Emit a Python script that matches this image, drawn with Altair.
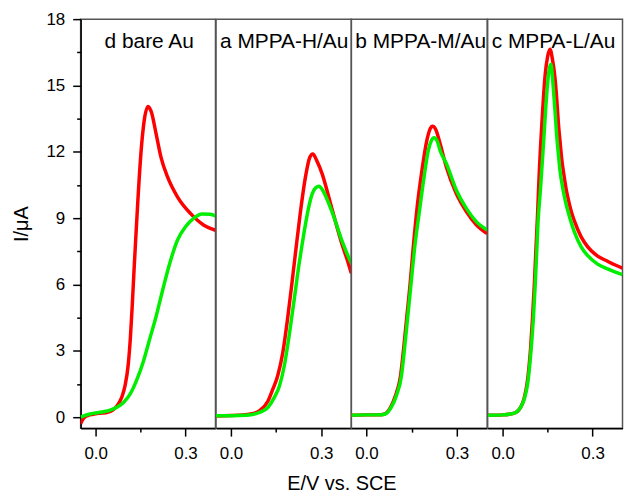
import altair as alt
import pandas as pd

# ---- data ----
panel_labels = ["d bare Au", "a MPPA-H/Au", "b MPPA-M/Au", "c MPPA-L/Au"]

d_red_E = [-0.05, -0.04, -0.03, -0.02, 0.0, 0.02, 0.04, 0.055, 0.071, 0.087, 0.098, 0.109, 0.116, 0.122, 0.128, 0.134, 0.141, 0.151, 0.162, 0.175, 0.186, 0.202, 0.218, 0.24, 0.273, 0.317, 0.36, 0.40]
d_red_I = [-0.3, -0.05, 0.05, 0.1, 0.15, 0.18, 0.22, 0.3, 0.5, 0.89, 1.41, 2.4, 3.6, 5.0, 6.6, 8.1, 9.8, 11.9, 13.4, 14.05, 13.8, 12.8, 11.76, 10.86, 9.96, 9.2, 8.69, 8.45]
d_green_E = [-0.05, -0.022, 0.011, 0.044, 0.071, 0.093, 0.115, 0.136, 0.158, 0.18, 0.202, 0.224, 0.246, 0.273, 0.30, 0.328, 0.355, 0.382, 0.40]
d_green_I = [0.0, 0.13, 0.21, 0.29, 0.44, 0.66, 1.04, 1.64, 2.46, 3.51, 4.56, 5.76, 6.89, 8.0, 8.61, 9.0, 9.19, 9.17, 9.1]

a_red_E = [-0.05, 0.0, 0.04, 0.062, 0.095, 0.123, 0.139, 0.155, 0.172, 0.188, 0.202, 0.215, 0.23, 0.248, 0.262, 0.272, 0.285, 0.303, 0.325, 0.346, 0.368, 0.39, 0.40]
a_red_I = [0.05, 0.07, 0.1, 0.13, 0.29, 0.73, 1.26, 1.86, 2.91, 4.45, 6.0, 7.5, 9.2, 10.9, 11.75, 11.9, 11.6, 11.0, 9.96, 8.9, 7.86, 6.96, 6.5]
a_green_E = [-0.05, 0.0, 0.05, 0.095, 0.123, 0.144, 0.161, 0.177, 0.193, 0.21, 0.226, 0.237, 0.248, 0.26, 0.27, 0.282, 0.292, 0.303, 0.325, 0.346, 0.368, 0.39, 0.40]
a_green_I = [0.06, 0.06, 0.08, 0.21, 0.44, 0.89, 1.41, 2.31, 3.66, 5.31, 6.9, 7.86, 8.76, 9.6, 10.1, 10.38, 10.44, 10.3, 9.66, 8.9, 8.0, 7.26, 6.96]

b_red_E = [-0.05, 0.0, 0.04, 0.058, 0.08, 0.096, 0.113, 0.123, 0.134, 0.145, 0.154, 0.167, 0.184, 0.2, 0.21, 0.219, 0.23, 0.244, 0.265, 0.298, 0.331, 0.364, 0.40]
b_red_I = [0.08, 0.1, 0.1, 0.13, 0.44, 0.96, 1.86, 3.06, 4.56, 6.06, 7.5, 9.36, 11.16, 12.5, 13.0, 13.15, 13.0, 12.37, 11.3, 10.1, 9.3, 8.7, 8.3]
b_green_E = [-0.05, 0.0, 0.04, 0.06, 0.082, 0.099, 0.116, 0.126, 0.137, 0.148, 0.159, 0.176, 0.191, 0.205, 0.215, 0.224, 0.234, 0.244, 0.265, 0.298, 0.331, 0.364, 0.40]
b_green_I = [0.08, 0.1, 0.1, 0.13, 0.44, 0.96, 1.86, 3.06, 4.56, 6.06, 7.57, 9.36, 10.86, 12.06, 12.5, 12.63, 12.5, 12.06, 11.46, 10.26, 9.44, 8.84, 8.46]

c_red_E = [-0.05, 0.0, 0.022, 0.044, 0.06, 0.071, 0.082, 0.093, 0.1, 0.106, 0.111, 0.116, 0.122, 0.131, 0.142, 0.150, 0.158, 0.166, 0.175, 0.181, 0.186, 0.192, 0.197, 0.205, 0.212, 0.219, 0.23, 0.24, 0.262, 0.284, 0.317, 0.35, 0.372, 0.40]
c_red_I = [0.08, 0.1, 0.13, 0.21, 0.44, 0.81, 1.56, 3.06, 4.56, 6.06, 7.57, 9.0, 11.0, 13.3, 15.5, 16.3, 16.64, 16.2, 15.3, 14.3, 13.3, 12.4, 11.7, 10.9, 10.3, 9.85, 9.25, 8.85, 8.15, 7.7, 7.28, 7.05, 6.9, 6.74]
c_green_E = [-0.05, 0.0, 0.022, 0.044, 0.06, 0.072, 0.084, 0.095, 0.103, 0.109, 0.114, 0.118, 0.126, 0.137, 0.148, 0.155, 0.161, 0.165, 0.169, 0.175, 0.18, 0.186, 0.191, 0.2, 0.208, 0.219, 0.23, 0.24, 0.262, 0.284, 0.317, 0.35, 0.372, 0.40]
c_green_I = [0.08, 0.1, 0.13, 0.21, 0.44, 0.81, 1.56, 3.06, 4.56, 6.06, 7.57, 8.8, 10.26, 12.5, 14.77, 15.7, 15.96, 15.6, 14.9, 13.8, 12.8, 11.9, 11.2, 10.4, 9.85, 9.25, 8.75, 8.35, 7.7, 7.3, 6.92, 6.7, 6.58, 6.44]

red_E = [d_red_E, a_red_E, b_red_E, c_red_E]
red_I = [d_red_I, a_red_I, b_red_I, c_red_I]
green_E = [d_green_E, a_green_E, b_green_E, c_green_E]
green_I = [d_green_I, a_green_I, b_green_I, c_green_I]

y_ticks = [0, 1.5, 3, 4.5, 6, 7.5, 9, 10.5, 12, 13.5, 15, 16.5, 18]
x_ticks = [0.0, 0.15, 0.3]

FONT = "Liberation Sans"
panel_widths = [135.5, 136, 136.5, 135.5]
label_x = [24, 4, 4, 4]

xscale = alt.Scale(domain=[-0.05, 0.40], nice=False, zero=False)
yscale = alt.Scale(domain=[-0.5, 18], nice=False, zero=False)


def x_axis(with_title):
    kw = dict(
        values=x_ticks, format=".1f",
        labelExpr="abs(datum.value - 0.15) < 0.001 ? '' : datum.label",
        tickSize={"condition": {"test": "abs(datum.value - 0.15) < 0.001", "value": 4}, "value": 8},
        grid=False, labelFontSize=17, labelFont=FONT, labelColor="black", labelPadding=10,
        domainColor="black", domainWidth=1.5, tickColor="black", tickWidth=1.5,
    )
    if with_title:
        kw.update(title="E/V vs. SCE", titleX=126, titleFontSize=20, titleFont=FONT,
                  titleFontWeight="normal", titleColor="black", titlePadding=12)
    else:
        kw.update(title=None)
    return alt.Axis(**kw)


y_axis = alt.Axis(
    values=y_ticks,
    labelExpr="datum.value % 3 == 0 ? datum.label : ''",
    tickSize={"condition": {"test": "datum.value % 3 != 0", "value": 4}, "value": 8},
    grid=False, labelFontSize=17, labelFont=FONT, labelColor="black", labelPadding=8,
    domainColor="black", domainWidth=1.5, tickColor="black", tickWidth=1.5,
    title="I/μA", titleFontSize=20, titleFont=FONT, titleFontWeight="normal",
    titleColor="black", titlePadding=14,
)

panels = []
for i in range(4):
    ya = y_axis if i == 0 else None
    dfr = pd.DataFrame({"E": red_E[i], "I": red_I[i]})
    dfg = pd.DataFrame({"E": green_E[i], "I": green_I[i]})
    enc = dict(
        x=alt.X("E:Q", scale=xscale, axis=x_axis(i == 1)),
        y=alt.Y("I:Q", scale=yscale, axis=ya),
    )
    red = alt.Chart(dfr).mark_line(color="#ff0000", strokeWidth=3.5, interpolate="monotone", clip=True).encode(**enc)
    green = alt.Chart(dfg).mark_line(color="#00ee00", strokeWidth=3.5, interpolate="monotone", clip=True).encode(**enc)
    txt = alt.Chart(pd.DataFrame({"t": [panel_labels[i]]})).mark_text(
        align="left", baseline="alphabetic", fontSize=21, font=FONT, color="black"
    ).encode(text="t:N", x=alt.value(label_x[i]), y=alt.value(29.5))
    panels.append(alt.layer(red, green, txt).properties(width=panel_widths[i], height=411))

chart = alt.hconcat(*panels, spacing=0, bounds="flush").properties(
    padding={"left": 3, "top": 0, "right": 0, "bottom": -2}
).configure(background="white").configure_view(stroke="#555555", strokeWidth=1.5)

chart.save("out.html", embed_options={"renderer": "svg", "actions": False})
